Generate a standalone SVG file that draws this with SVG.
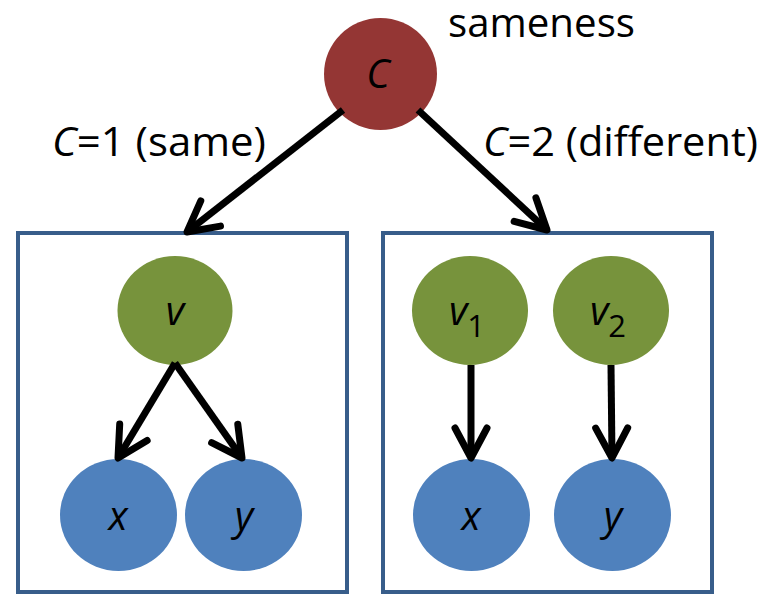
<svg xmlns="http://www.w3.org/2000/svg" width="764" height="595" viewBox="0 0 764 595">
  <defs>
    <style>
      .plate { fill: #FFFFFF; stroke: #385D8A; stroke-width: 4; }
      .root { fill: #943634; }
      .latent { fill: #77933C; }
      .obs { fill: #4F81BD; }
      .txt { font-family: "Open Sans", "Liberation Sans", sans-serif; fill: #000000; }
      .lbl { font-size: 40px; }
      .var { font-size: 40px; font-style: italic; text-anchor: middle; }
      .sub { font-size: 31px; font-style: normal; }
      .edge { fill: none; stroke: #000000; stroke-width: 7; marker-end: url(#head); }
    </style>
    <marker id="head" markerUnits="userSpaceOnUse" orient="auto" overflow="visible" refX="0" refY="0" markerWidth="1" markerHeight="1">
      <path d="M-30,-16 L0,0 L-30,16" fill="none" stroke="#000000" stroke-width="7" stroke-linecap="round" stroke-linejoin="round"/>
    </marker>
  </defs>

  <rect width="764" height="595" fill="#FFFFFF"/>

  <!-- plates -->
  <g id="plate-same">
    <rect class="plate" x="18" y="233" width="329" height="359"/>
  </g>
  <g id="plate-different">
    <rect class="plate" x="383" y="233" width="329" height="359"/>
  </g>

  <!-- root node -->
  <g id="node-C">
    <ellipse class="root" cx="380.5" cy="74" rx="56.5" ry="56"/>
    <text class="txt var" x="378" y="88">C</text>
  </g>
  <text class="txt lbl" x="448" y="37" textLength="187" lengthAdjust="spacingAndGlyphs">sameness</text>
  <text class="txt lbl" x="52" y="156" textLength="214" lengthAdjust="spacingAndGlyphs"><tspan font-style="italic">C</tspan>=1 (same)</text>
  <text class="txt lbl" x="483" y="156" textLength="275" lengthAdjust="spacingAndGlyphs"><tspan font-style="italic">C</tspan>=2 (different)</text>

  <!-- same: shared v -->
  <g id="node-v">
    <ellipse class="latent" cx="175" cy="310.5" rx="57.5" ry="54.5"/>
    <text class="txt var" x="175" y="325">v</text>
  </g>
  <g id="node-x-same">
    <ellipse class="obs" cx="118.5" cy="515" rx="58.5" ry="56"/>
    <text class="txt var" x="118" y="530">x</text>
  </g>
  <g id="node-y-same">
    <ellipse class="obs" cx="243.5" cy="515" rx="58.5" ry="56"/>
    <text class="txt var" x="244" y="530">y</text>
  </g>

  <!-- different: separate v1, v2 -->
  <g id="node-v1">
    <ellipse class="latent" cx="470" cy="310.5" rx="58" ry="54.5"/>
    <text class="txt var" x="467" y="325">v<tspan class="sub" dy="12">1</tspan></text>
  </g>
  <g id="node-v2">
    <ellipse class="latent" cx="611" cy="310.5" rx="58" ry="54.5"/>
    <text class="txt var" x="608" y="325">v<tspan class="sub" dy="12">2</tspan></text>
  </g>
  <g id="node-x-diff">
    <ellipse class="obs" cx="471.5" cy="515" rx="58.5" ry="56"/>
    <text class="txt var" x="471" y="530">x</text>
  </g>
  <g id="node-y-diff">
    <ellipse class="obs" cx="612.5" cy="515" rx="58.5" ry="56"/>
    <text class="txt var" x="613" y="530">y</text>
  </g>

  <!-- connectors -->
  <g id="connectors">
    <line class="edge" x1="343" y1="110" x2="187" y2="232"/>
    <line class="edge" x1="418" y1="110" x2="547" y2="230"/>
    <line class="edge" x1="175" y1="363" x2="118" y2="458"/>
    <line class="edge" x1="175" y1="363" x2="242" y2="458"/>
    <line class="edge" x1="471" y1="365" x2="471" y2="458"/>
    <line class="edge" x1="611" y1="365" x2="612" y2="458"/>
  </g>
</svg>
